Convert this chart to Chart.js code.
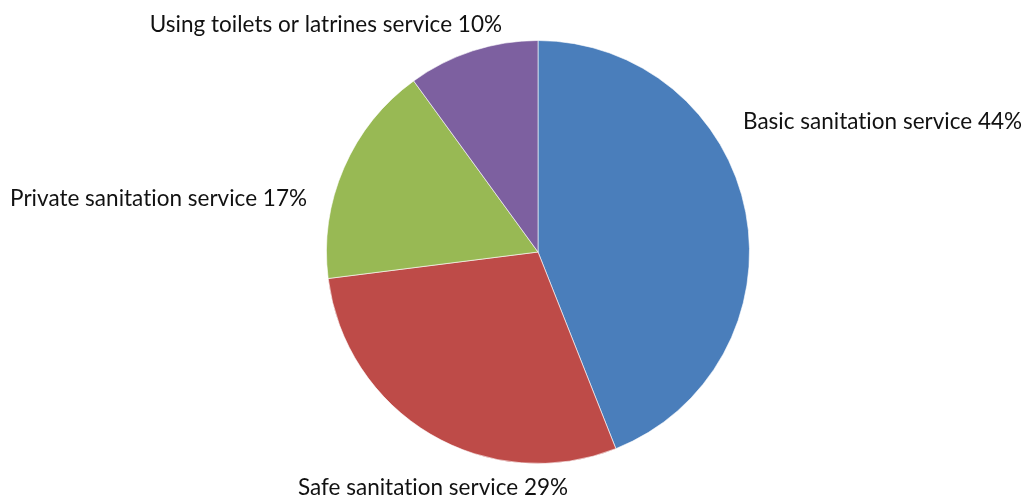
<!DOCTYPE html>
<html>
<head>
<meta charset="utf-8">
<script src="https://cdn.jsdelivr.net/npm/chart.js"></script>
<style>
html,body{margin:0;padding:0;background:#fff;}
#wrap{width:1029px;height:498px;}
</style>
</head>
<body>
<div id="wrap"><canvas id="c" width="1029" height="498"></canvas></div>
<script>
const categories = ["Basic sanitation service", "Safe sanitation service", "Private sanitation service", "Using toilets or latrines service"];
const values = [44, 29, 17, 10];
const colors = ["#4A7EBB", "#BE4B48", "#98B954", "#7D60A0"];

// label anchor positions [x, y, align]
const labelPos = [
  [743, 122, "left"],
  [433, 488, "center"],
  [307, 199, "right"],
  [502, 25, "right"]
];

const labelPlugin = {
  id: "labels",
  afterDraw(chart) {
    const ctx = chart.ctx;
    ctx.save();
    ctx.font = "22.5px Lato";
    if ("letterSpacing" in ctx) ctx.letterSpacing = "0.01px";
    if ("fontVariantLigatures" in ctx) ctx.fontVariantLigatures = "none";
    ctx.fillStyle = "#111";
    ctx.textBaseline = "middle";
    categories.forEach((c, i) => {
      const p = labelPos[i];
      ctx.textAlign = p[2];
      ctx.fillText(c + " " + values[i] + "%", p[0], p[1]);
    });
    ctx.restore();
  }
};

new Chart(document.getElementById("c"), {
  type: "pie",
  data: {
    labels: categories,
    datasets: [{
      data: values,
      backgroundColor: colors,
      borderColor: "rgba(255,255,255,0.6)",
      borderWidth: 1
    }]
  },
  options: {
    responsive: false,
    animation: false,
    layout: { padding: { left: 326, right: 279, top: 40, bottom: 34 } },
    plugins: { legend: { display: false }, tooltip: { enabled: false } }
  },
  plugins: [labelPlugin]
});
</script>
</body>
</html>
